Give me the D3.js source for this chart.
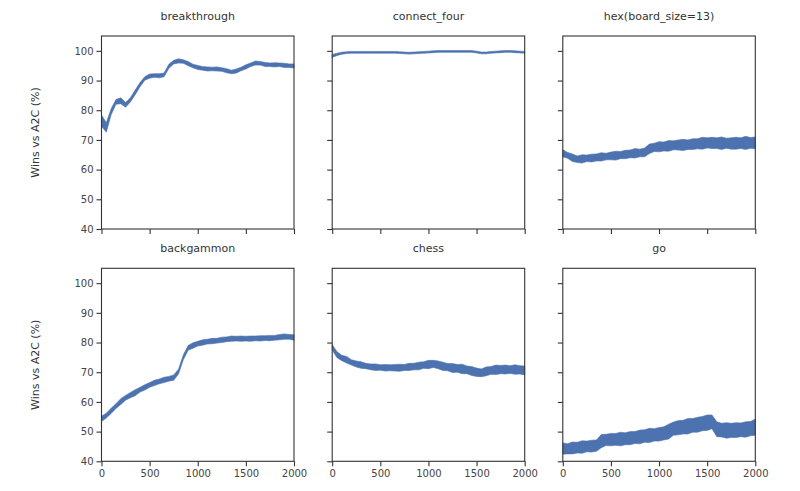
<!DOCTYPE html>
<html>
<head>
<meta charset="utf-8">
<script src="https://cdn.jsdelivr.net/npm/d3@7"></script>
<style>
  body { margin: 0; background: #fff; }
  text { font-family: "DejaVu Sans", sans-serif; fill: #333; }
</style>
</head>
<body>
<svg id="chart" width="800" height="491"></svg>
<script>
// DATA (one point every 50 iterations)
var games = ['breakthrough', 'connect_four', 'hex(board_size=13)', 'backgammon', 'chess', 'go'];
var steps = d3.range(0, 2001, 50);
var yTicks = [40, 50, 60, 70, 80, 90, 100];
var xTicks = [0, 500, 1000, 1500, 2000];

var breakthrough = [76.5, 74.2, 79.5, 82.8, 83.2, 81.8, 83.5, 86.0, 88.6, 90.7,
    91.5, 91.7, 91.6, 91.9, 94.8, 96.2, 96.6, 96.4, 95.7, 94.9,
    94.4, 94.1, 93.9, 93.9, 93.9, 93.7, 93.3, 92.9, 93.2, 93.9,
    94.6, 95.3, 95.9, 95.8, 95.4, 95.3, 95.3, 95.3, 95.1, 95.0, 94.9];
var connectFour = [98.3, 98.8, 99.2, 99.4, 99.5, 99.5, 99.5, 99.5, 99.5, 99.5,
    99.5, 99.5, 99.5, 99.5, 99.4, 99.3, 99.2, 99.3, 99.4, 99.5,
    99.6, 99.7, 99.8, 99.8, 99.8, 99.8, 99.8, 99.8, 99.8, 99.8,
    99.6, 99.3, 99.3, 99.5, 99.6, 99.7, 99.8, 99.8, 99.7, 99.6, 99.5];
var hex = [65.5, 64.8, 64.0, 63.5, 63.6, 63.8, 63.9, 64.1, 64.3, 64.4,
    64.6, 64.7, 64.9, 65.1, 65.3, 65.5, 65.6, 65.8, 67.0, 67.5,
    67.7, 67.8, 68.0, 68.2, 68.3, 68.3, 68.4, 68.6, 68.7, 68.9,
    69.0, 69.0, 68.9, 68.9, 68.9, 68.8, 68.9, 68.9, 69.0, 69.0, 69.0];
var backgammon = [54.3, 55.4, 57.0, 58.6, 60.1, 61.4, 62.3, 63.1, 64.1, 64.9,
    65.7, 66.4, 66.9, 67.4, 67.8, 68.2, 70.2, 75.0, 78.2, 79.0,
    79.6, 80.0, 80.3, 80.5, 80.6, 80.9, 81.1, 81.3, 81.3, 81.3,
    81.3, 81.3, 81.4, 81.4, 81.5, 81.5, 81.6, 81.8, 82.0, 81.9, 81.7];
var chess = [78.4, 75.9, 74.8, 74.2, 73.3, 72.8, 72.4, 72.1, 71.8, 71.7,
    71.6, 71.5, 71.5, 71.5, 71.5, 71.6, 71.8, 71.9, 72.1, 72.4,
    72.6, 72.8, 72.5, 72.0, 71.7, 71.4, 71.3, 71.1, 70.8, 70.4,
    70.0, 69.8, 70.3, 70.6, 70.8, 70.9, 70.9, 70.9, 70.9, 70.8, 70.6];
var go = [44.3, 44.2, 44.5, 44.6, 44.8, 45.0, 45.1, 45.3, 46.8, 47.2,
    47.3, 47.4, 47.5, 47.6, 47.8, 48.0, 48.2, 48.5, 48.7, 48.9,
    49.1, 49.4, 50.0, 51.0, 51.3, 51.5, 51.8, 52.1, 52.3, 52.7,
    53.0, 53.3, 50.8, 50.5, 50.4, 50.4, 50.5, 50.6, 50.7, 51.0, 51.5];

// half-width of the noisy band around each curve
var breakthroughSpread = [1.9, 1.6, 1.0, 0.8, 1.0, 0.8, 0.7, 0.8, 0.7, 0.6,
    0.7, 0.6, 0.7, 0.6, 0.7, 0.6, 0.7, 0.6, 0.7, 0.6,
    0.7, 0.6, 0.7, 0.6, 0.7, 0.6, 0.7, 0.6, 0.7, 0.6,
    0.7, 0.6, 0.7, 0.6, 0.7, 0.6, 0.7, 0.6, 0.7, 0.6, 0.7];
var connectFourSpread = [0.5, 0.4, 0.35, 0.3, 0.3, 0.3, 0.3, 0.3, 0.3, 0.3,
    0.3, 0.3, 0.3, 0.3, 0.3, 0.3, 0.3, 0.3, 0.3, 0.3,
    0.3, 0.3, 0.3, 0.3, 0.3, 0.3, 0.3, 0.3, 0.3, 0.3,
    0.3, 0.3, 0.3, 0.3, 0.3, 0.3, 0.3, 0.3, 0.3, 0.3, 0.3];
var hexSpread = [1.2, 1.0, 1.3, 1.1, 1.4, 1.1, 1.3, 1.2, 1.4, 1.1,
    1.3, 1.5, 1.2, 1.4, 1.3, 1.6, 1.3, 1.5, 1.6, 1.4,
    1.7, 1.5, 1.8, 1.5, 1.7, 1.9, 1.6, 1.8, 1.7, 2.0,
    1.7, 1.9, 1.8, 2.1, 1.7, 1.9, 2.0, 1.8, 2.2, 1.8, 2.0];
var backgammonSpread = [0.9, 0.8, 0.9, 0.8, 1.0, 0.8, 0.9, 1.0, 0.8, 0.9,
    0.8, 0.9, 0.8, 0.9, 0.8, 0.9, 0.8, 0.8, 0.8, 0.9,
    0.8, 0.9, 0.8, 0.9, 0.8, 0.9, 0.8, 0.9, 0.8, 0.9,
    0.8, 0.9, 0.8, 0.9, 0.8, 0.9, 0.8, 0.9, 0.9, 0.8, 0.9];
var chessSpread = [0.9, 1.0, 0.9, 1.1, 0.9, 1.0, 1.1, 0.9, 1.0, 1.1,
    0.9, 1.1, 1.0, 1.1, 1.2, 1.0, 1.2, 1.1, 1.3, 1.1,
    1.4, 1.2, 1.3, 1.4, 1.2, 1.5, 1.3, 1.6, 1.3, 1.5,
    1.4, 1.3, 1.5, 1.3, 1.6, 1.4, 1.5, 1.3, 1.6, 1.4, 1.5];
var goSpread = [1.9, 1.7, 2.0, 1.8, 2.1, 1.8, 2.0, 1.9, 2.2, 1.9,
    2.1, 2.0, 2.3, 2.0, 2.2, 2.0, 2.3, 2.1, 2.4, 2.1,
    2.3, 2.2, 2.5, 2.2, 2.4, 2.3, 2.6, 2.3, 2.5, 2.4,
    2.6, 2.3, 2.5, 2.3, 2.6, 2.4, 2.5, 2.3, 2.6, 2.4, 2.7];

var series = [breakthrough, connectFour, hex, backgammon, chess, go];
var spreads = [breakthroughSpread, connectFourSpread, hexSpread, backgammonSpread, chessSpread, goSpread];

// LAYOUT
var svg = d3.select('#chart');
var W = 192.5, H = 193;
var colX = [101.5, 332.2, 562.8];
var rowY = [36, 268.3];

var x = d3.scaleLinear().domain([0, 2000]).range([0, W]);
var y = d3.scaleLinear().domain([40, 105]).range([H, 0]);

var band = d3.area()
    .x(function(d) { return x(d.step); })
    .y0(function(d) { return y(d.v - d.s); })
    .y1(function(d) { return y(d.v + d.s); });

games.forEach(function(name, i) {
    var row = Math.floor(i / 3), col = i % 3;
    var g = svg.append('g')
        .attr('transform', 'translate(' + colX[col] + ',' + rowY[row] + ')');

    var pts = steps.map(function(st, k) {
        return { step: st, v: series[i][k], s: spreads[i][k] };
    });

    g.append('path')
        .attr('d', band(pts))
        .style('fill', '#4c72b0')
        .style('stroke', '#4c72b0')
        .style('stroke-width', '0.6px')
        .style('stroke-linejoin', 'round');

    // Frame
    g.append('rect')
        .attr('width', W)
        .attr('height', H)
        .style('fill', 'none')
        .style('stroke', '#333')
        .style('stroke-width', '1.1px');

    // Axes
    var yAxis = d3.axisLeft(y).tickValues(yTicks).tickSize(5).tickPadding(3);
    if (col > 0) yAxis.tickFormat('');
    var xAxis = d3.axisBottom(x).tickValues(xTicks).tickSize(5).tickPadding(4)
        .tickFormat(d3.format('d'));
    if (row == 0) xAxis.tickFormat('');

    var ya = g.append('g').call(yAxis);
    var xa = g.append('g').attr('transform', 'translate(0,' + H + ')').call(xAxis);
    [ya, xa].forEach(function(a) {
        a.select('.domain').remove();
        a.selectAll('line').style('stroke', '#333').style('stroke-width', '1.1px');
        a.selectAll('text').style('font-size', '10px').style('fill', '#444')
            .style('font-family', '"DejaVu Sans", sans-serif');
    });

    // Title
    g.append('text')
        .attr('x', W / 2)
        .attr('y', -16)
        .attr('text-anchor', 'middle')
        .style('font-size', '11px')
        .text(name);

    // Y label
    if (col == 0) {
        g.append('text')
            .attr('transform', 'translate(-63,' + (H / 2) + ') rotate(-90)')
            .attr('text-anchor', 'middle')
            .style('font-size', '11px')
            .text('Wins vs A2C (%)');
    }
});
</script>
</body>
</html>
